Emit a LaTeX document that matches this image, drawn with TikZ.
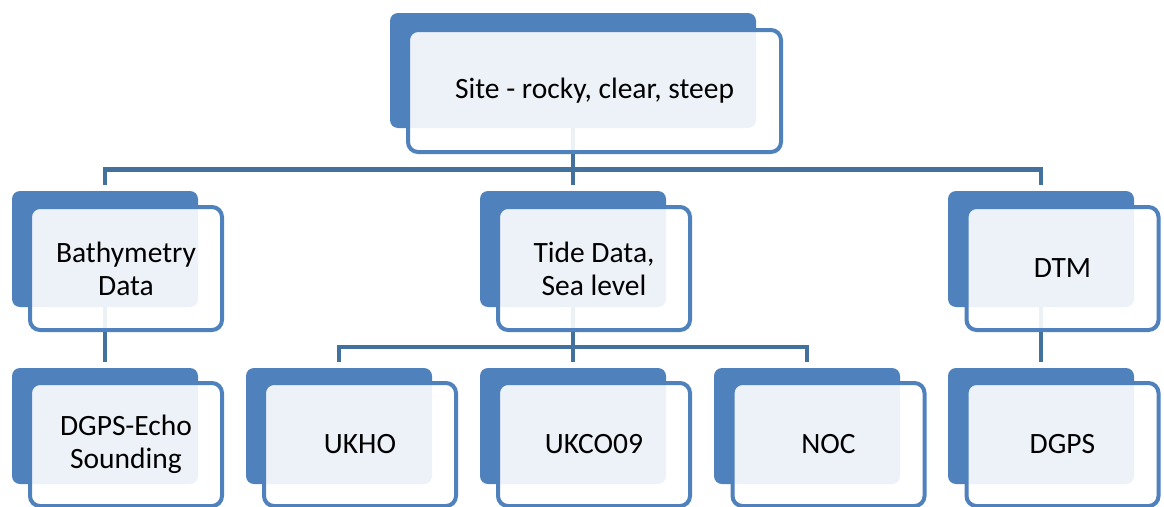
\documentclass[tikz,border=0pt]{standalone}
\usepackage{fontspec}
\setmainfont{Carlito}
\definecolor{accent}{HTML}{4F81BD}
\definecolor{connc}{HTML}{41719C}
\tikzset{
 backbox/.style={rectangle, rounded corners=8pt, fill=accent, draw=none, minimum width=186pt, minimum height=116pt, inner sep=0pt, outer sep=0pt},
 frontbox/.style={rectangle, rounded corners=10pt, draw=accent, line width=4pt, fill=white, fill opacity=0.9, text opacity=1, minimum width=192pt, minimum height=123pt, inner sep=0pt, outer sep=0pt, align=center, font=\fontsize{29.5}{33}\selectfont, text=black},
 conn/.style={draw=connc, line width=4.5pt, shorten >=6pt},
}
\begin{document}
\begin{tikzpicture}[x=1pt,y=-1pt]
\useasboundingbox (0,0) rectangle (1164,506);
% back plates
\node[backbox, minimum width=366pt, minimum height=115pt] (topB) at (573,70.5) {};
\node[backbox] (bathyB) at (105,249) {};
\node[backbox] (tideB) at (573,249) {};
\node[backbox] (dtmB) at (1041,249) {};
\node[backbox] (echoB) at (105,426) {};
\node[backbox] (ukhoB) at (339,426) {};
\node[backbox] (ukcoB) at (573,426) {};
\node[backbox] (nocB) at (807,426) {};
\node[backbox] (dgpsB) at (1041,426) {};
% connectors
\draw[conn] (topB.south) -- ++(0,41.5) -| (bathyB.north);
\draw[conn] (topB.south) -- ++(0,41.5) -| (dtmB.north);
\draw[conn] (topB.south) -- (tideB.north);
\draw[conn] (bathyB.south) -- (echoB.north);
\draw[conn] (dtmB.south) -- (dgpsB.north);
\draw[conn] (tideB.south) -- ++(0,40) -| (ukhoB.north);
\draw[conn] (tideB.south) -- ++(0,40) -| (nocB.north);
\draw[conn] (tideB.south) -- (ukcoB.north);
% front boxes
\node[frontbox, minimum width=373pt, minimum height=122pt] (top) at (594.5,91) {Site - rocky, clear, steep};
\node[frontbox] (bathy) at (126,268.5) {Bathymetry\\Data};
\node[frontbox] (tide) at (594,268.5) {Tide Data,\\Sea level};
\node[frontbox] (dtm) at (1062.5,268.5) {DTM};
\node[frontbox] (echo) at (126,444.5) {DGPS-Echo\\Sounding};
\node[frontbox] (ukho) at (360,444.5) {UKHO};
\node[frontbox] (ukco) at (594,444.5) {UKCO09};
\node[frontbox] (noc) at (828.5,444.5) {NOC};
\node[frontbox] (dgps) at (1062.5,444.5) {DGPS};
\end{tikzpicture}
\end{document}
